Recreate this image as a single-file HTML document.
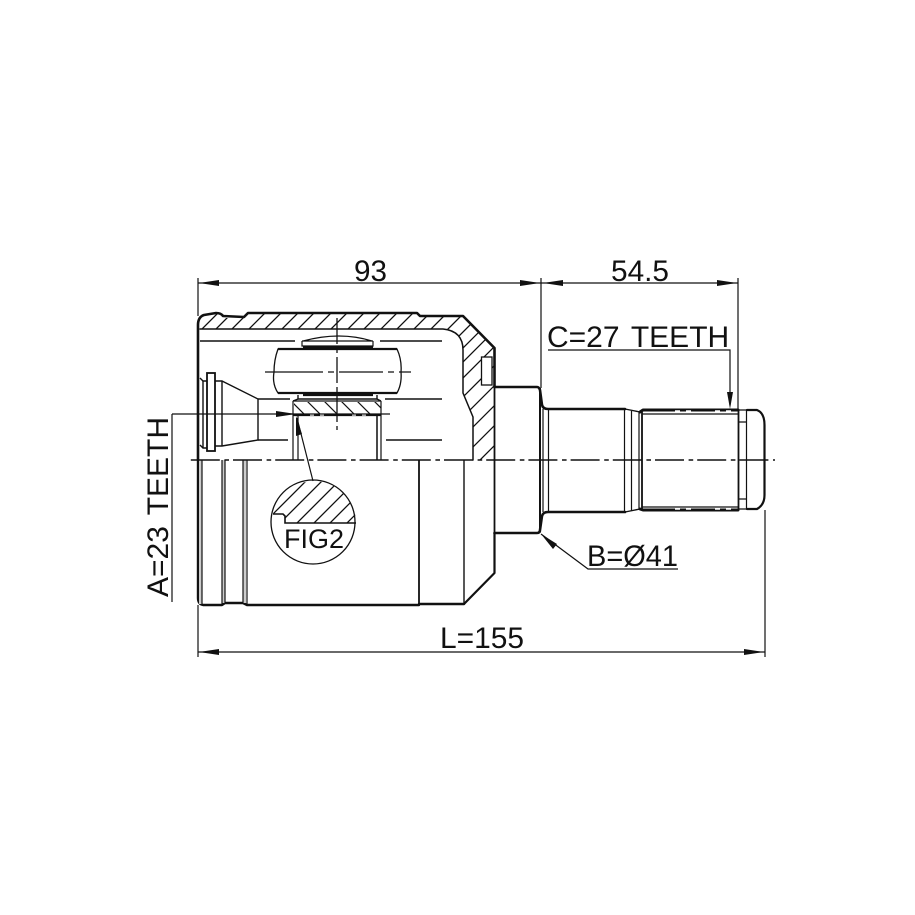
<!DOCTYPE html>
<html><head><meta charset="utf-8"><style>
html,body{margin:0;padding:0;background:#fff}
svg{display:block}
text{font-family:"Liberation Sans",sans-serif;font-size:30px;fill:#111}
</style></head><body>
<svg width="915" height="915" viewBox="0 0 915 915" xmlns="http://www.w3.org/2000/svg">
<defs>
<clipPath id="h1"><path d="M200 329L443 329Q463 331 463 350L463 393L473 417L473 460L494 460L494 347L463 317L420 317L417 314L248 314L244 318L224 318L220 314L208 314Q200 316 200 325Z"/></clipPath>
<clipPath id="h2"><rect x="294" y="402" width="87" height="12"/></clipPath>
<clipPath id="h3"><path d="M273 514L283 514L285 516L285 523L356 523A42 42 0 0 0 273 514Z"/></clipPath>
</defs>
<rect width="915" height="915" fill="#fff"/>

<!-- hatch housing -->
<g clip-path="url(#h1)" stroke="#111" stroke-width="1.3" fill="none">
<path d="M231 300L41 490M245 300L55 490M261 300L71 490M278 300L88 490M294 300L104 490M311 300L121 490M327 300L137 490M344 300L154 490M360 300L170 490M377 300L187 490M393 300L203 490M410 300L220 490M426 300L236 490M443 300L253 490M460 300L270 490M477 300L287 490M495 300L305 490M511 300L321 490M525 300L335 490M541 300L351 490M560 300L370 490M580 300L390 490M600 300L410 490M620 300L430 490M640 300L450 490"/>
</g>
<rect x="481.5" y="357" width="10.5" height="28" fill="#fff" stroke="#111" stroke-width="1.3"/>

<!-- outer outline -->
<g fill="none" stroke="#111" stroke-linejoin="round" stroke-linecap="round">
<path stroke-width="2.6" d="M198 460L198 325Q198 317 204 315L216 313Q221 313 223 316L244 317L248 313L417 313L420 316L463 316L494.5 348L494.5 387"/>
<path stroke-width="1.5" d="M200 329L443 329Q463 331 463 350L463 393L473 417L473 460"/>
<path stroke-width="2.6" d="M494.5 387L537 387Q539 387 540 390L542 405Q543 409 548 409L625 409"/>
<path stroke-width="1.4" d="M625 409L640 412"/>
<path stroke-width="3" d="M640 412L643 410L738 410"/>
<path stroke-width="2.2" d="M747 410L757 410Q764.5 413 764.5 425L764.5 495Q764.5 505 757 509L747 509"/>
<path stroke-width="3" d="M640 509L643 510L738 510"/>
<path stroke-width="2.6" d="M548 512L625 512M548 512Q543 512 542 516L540 530Q540 533 537 533L494.5 533"/>
<path stroke-width="1.4" d="M625 512L640 509"/>
<path stroke-width="1.8" d="M494.5 387L494.5 533"/>
<path stroke-width="2.2" d="M494.5 533L494.5 573L464 604"/>
<path stroke-width="2.4" d="M464 604L419 604M419 605L247 605L243 603L225 603L222 605L203 605Q198 604 198 598L198 460"/>
</g>

<!-- shaft verticals -->
<g stroke="#111" stroke-width="1.2" fill="none">
<path d="M543 409L543 512M548.5 409L548.5 512M624.5 409L624.5 512M631.5 411L631.5 511M639 412L639 510"/>
<path stroke-width="1.8" d="M642 412L642 510M738.5 410L738.5 510"/>
<path d="M746.5 410L746.5 509M739 422L747 422M739 499L747 499M739 410L747 410M739 509L747 509"/>
<path d="M642 414L739 414M642 507L739 507"/>
<path stroke-width="2" d="M540 388L540 532"/>
</g>
<path d="M675 411L680 411M686 411L691 411M715 411L720 411M726 411L731 411M675 509L680 509M686 509L691 509M715 509L720 509M726 509L731 509" stroke="#fff" stroke-width="1.4"/>

<!-- lower body verticals -->
<rect x="199" y="460" width="3" height="144" fill="#ccc"/>
<rect x="243" y="460" width="3" height="143" fill="#ccc"/>
<rect x="222" y="460" width="3" height="143" fill="#ccc"/>
<g stroke="#111" fill="none">
<path stroke-width="1.2" d="M202 460L202 605M222 460L222 604M225 460L225 603M243 460L243 603M247 460L247 605"/>
<path stroke-width="1.8" d="M419 460L419 605"/>
<path stroke-width="1.4" d="M464 460L464 604"/>
</g>

<!-- left inner parts -->
<g fill="none" stroke="#111" stroke-width="1.4">
<path d="M200 341L295 341M380 341L442 341"/>
<path d="M200 378L203 381L207 381M200 445L203 448L207 448"/>
<path d="M203 381L203 448"/>
<rect x="207" y="373" width="8" height="78" stroke-width="1.8"/>
<path d="M215 381L222 381L258 399L258 440L222 446L215 446M222 381L222 446"/>
<path d="M258 399L290 399M258 440L288 440M385 399L442 399M386 440L442 440"/>
</g>

<!-- roller -->
<g fill="none" stroke="#111">
<path stroke-width="1.3" d="M278 349L397 349Q402 360 401 372Q402 384 397 393L278 393Q272 384 274 372Q274 360 278 349Z"/>
<path stroke-width="2.2" d="M278 349L397 349M278 393L397 393"/>
<path stroke-width="1.2" d="M303 341L372 341Q340 331 303 341ZM302 341L302 346L373 346L373 341M302 341L373 341"/>
<path stroke-width="2.2" d="M303 347L373 347M303 395L373 395"/>
<path stroke-width="1.4" d="M298 395L298 399L377 399L377 395"/>
<path stroke-width="1.2" d="M293 401L381 401M293 401L293 460M298 415L298 460M377 415L377 460M381 401L381 460"/>
<path stroke-width="2.2" d="M293 415L381 415"/>
<path stroke-width="1.4" d="M293 401L298 399M381 401L377 399M377 415L377 460"/>
</g>
<g clip-path="url(#h2)" stroke="#111" stroke-width="1.2" fill="none">
<path d="M288 398L306 416M304 398L322 416M321 398L339 416M338 398L356 416M354 398L372 416M371 398L389 416"/>
</g>
<path d="M310 415L314 415M320 415L324 415M352 415L356 415M362 415L366 415" stroke="#fff" stroke-width="1.2"/>
<g stroke="#111" stroke-width="1.3" fill="none">
<path d="M337 318L337 430" stroke-dasharray="26 4 5 4"/>
<path d="M265 372L411 372" stroke-dasharray="58 5 6 5 44 5 6 5"/>
</g>

<!-- FIG2 -->
<g clip-path="url(#h3)" stroke="#111" stroke-width="1.3" fill="none">
<path d="M322 465L252 535M338 465L268 535M355 465L285 535M372 465L302 535M388 465L318 535M405 465L335 535M421 465L351 535"/>
</g>
<g fill="none" stroke="#111" stroke-width="1.3">
<circle cx="313" cy="522" r="42" fill="none"/>
<path stroke-width="1.6" d="M273 514L283 514L285 516L285 523L356 523"/>
</g>
<text x="284" y="548" style="font-size:27px" textLength="60" lengthAdjust="spacingAndGlyphs">FIG2</text>

<!-- centerline -->
<path d="M190.8 460L775 460" stroke="#111" stroke-width="1.5" stroke-dasharray="29 4.6 4.6 4" fill="none"/>

<!-- dimensions -->
<g stroke="#111" stroke-width="1.2" fill="none">
<path d="M198 278L198 316M541 278L541 388M738 278L738 410"/>
<path d="M198 283L541 283M541 283L738 283"/>
<path d="M198 605L198 657M765 510L765 657M198 652L765 652"/>
<path d="M172 414L172 602M172 414L390 414"/>
<path d="M297 418L313 481"/>
<path d="M548 350L730 350L730 405"/>
<path d="M541 534L588 569L678 569"/>
</g>
<g fill="#111" stroke="none">
<path d="M199 283L219 280L219 286Z"/>
<path d="M540 283L520 280L520 286Z"/>
<path d="M543 283L563 280L563 286Z"/>
<path d="M737 283L717 280L717 286Z"/>
<path d="M199 652L219 649L219 655Z"/>
<path d="M764 652L744 649L744 655Z"/>
<path d="M296 414L276 411L276 417Z"/>
<path d="M296 416L302 434L296 436Z"/>
<path d="M730 409L727 392L733 392Z"/>
<path d="M541 534L557 544L553 549Z"/>
</g>

<!-- labels -->
<text x="354" y="281" textLength="33" lengthAdjust="spacingAndGlyphs">93</text>
<text x="611" y="281" textLength="58" lengthAdjust="spacingAndGlyphs">54.5</text>
<text x="547" y="347" style="word-spacing:3.5px">C=27 TEETH</text>
<text x="587" y="566" textLength="91" lengthAdjust="spacingAndGlyphs">B=Ø41</text>
<text x="440" y="648" textLength="84" lengthAdjust="spacingAndGlyphs">L=155</text>
<text transform="translate(168 597) rotate(-90)" style="word-spacing:3px">A=23 TEETH</text>
</svg>
</body></html>
